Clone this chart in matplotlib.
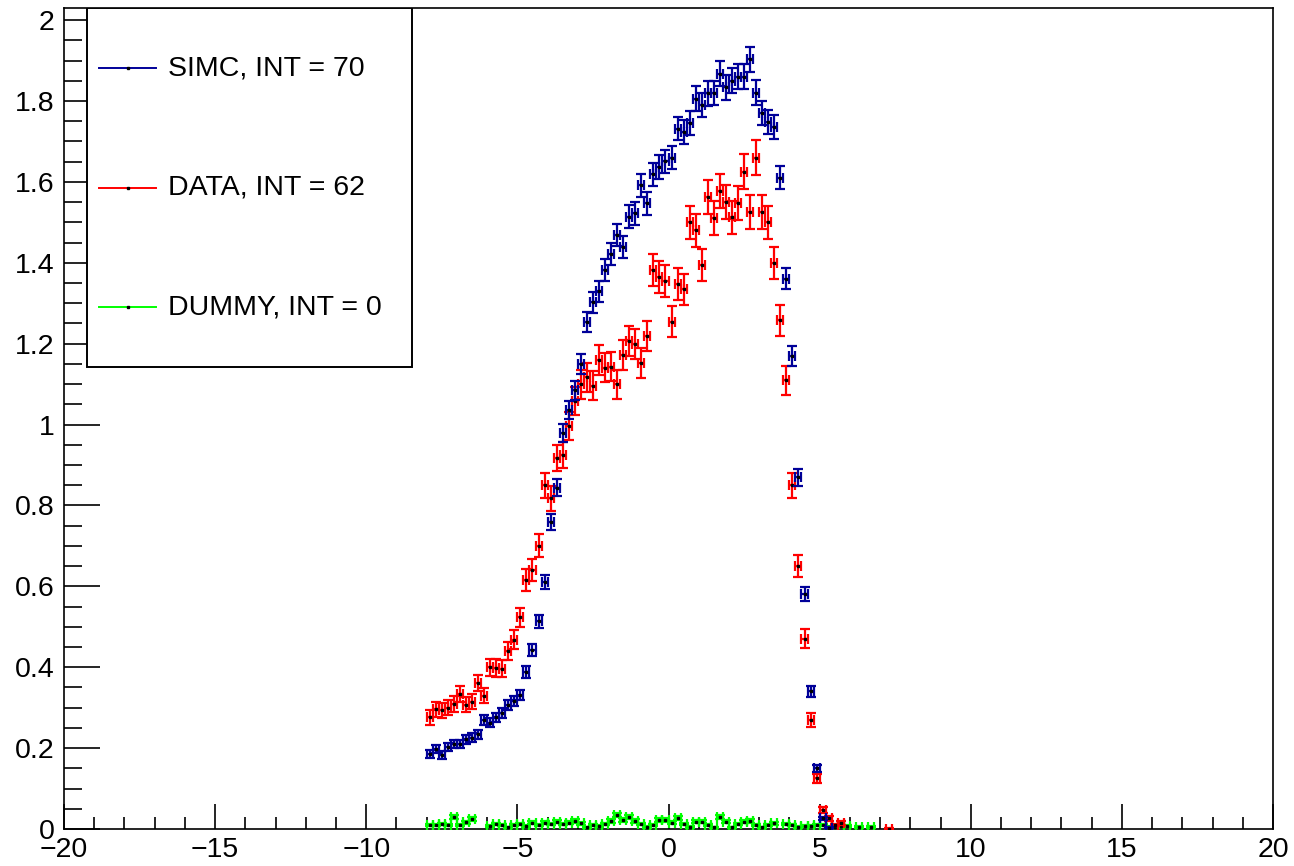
import numpy as np
import matplotlib.pyplot as plt
from matplotlib.patches import Rectangle
from matplotlib.lines import Line2D
from matplotlib.ticker import MultipleLocator

plt.rcParams['font.family'] = ['Liberation Sans', 'DejaVu Sans']

# histogram binning: 0.2 wide bins, first filled bin centred at -7.9
bin_width = 0.2
first_center = -7.9

simc_vals = [0.185, 0.198, 0.183, 0.202, 0.21, 0.21, 0.222, 0.226, 0.234, 0.269,
             0.263, 0.276, 0.286, 0.307, 0.317, 0.331, 0.388, 0.443, 0.514, 0.61,
             0.759, 0.844, 0.978, 1.036, 1.085, 1.15, 1.254, 1.302, 1.33, 1.382,
             1.421, 1.468, 1.44, 1.514, 1.522, 1.592, 1.547, 1.619, 1.637, 1.651,
             1.66, 1.732, 1.724, 1.745, 1.806, 1.79, 1.819, 1.82, 1.868, 1.834,
             1.85, 1.86, 1.86, 1.903, 1.821, 1.77, 1.747, 1.735, 1.61, 1.361,
             1.17, 0.87, 0.58, 0.34, 0.15, 0.026, 0.003]

data_vals = [0.276, 0.296, 0.294, 0.30, 0.309, 0.334, 0.307, 0.315, 0.361, 0.33,
             0.40, 0.398, 0.396, 0.44, 0.468, 0.523, 0.616, 0.641, 0.70, 0.85,
             0.818, 0.918, 0.925, 0.996, 1.059, 1.10, 1.117, 1.096, 1.16, 1.141,
             1.143, 1.10, 1.172, 1.207, 1.20, 1.152, 1.219, 1.382, 1.364, 1.356,
             1.254, 1.347, 1.334, 1.50, 1.48, 1.394, 1.563, 1.51, 1.578, 1.551,
             1.512, 1.547, 1.625, 1.526, 1.66, 1.526, 1.50, 1.40, 1.258, 1.11,
             0.85, 0.65, 0.47, 0.27, 0.125, 0.047, 0.026, 0.01, 0.015,
             np.nan, np.nan, np.nan, np.nan, np.nan, np.nan, np.nan, 0.001]

dummy_vals = [0.010, 0.010, 0.012, 0.010, 0.030, 0.010, 0.017, 0.025, np.nan, np.nan,
              0.008, 0.012, 0.010, 0.004, 0.010, 0.012, 0.008, 0.015, 0.010, 0.015,
              0.012, 0.018, 0.012, 0.015, 0.020, 0.014, 0.004, 0.010, 0.008, 0.012,
              0.020, 0.035, 0.022, 0.030, 0.020, 0.012, 0.006, 0.010, 0.022, 0.022,
              0.015, 0.028, 0.012, 0.006, 0.018, 0.018, 0.010, 0.004, 0.030, 0.018,
              0.004, 0.012, 0.018, 0.020, 0.010, 0.004, 0.010, 0.014, np.nan, 0.012,
              0.010, 0.005, 0.008, 0.008, 0.010, 0.010, 0.006, 0.004, 0.008, 0.008,
              np.nan, 0.006, np.nan, 0.005]

# per-series Poisson error scale (err = scale * sqrt(content))
err_scale = {"SIMC": 0.0225, "DATA": 0.034, "DUMMY": 0.03}

labels = ["SIMC, INT = 70", "DATA, INT = 62", "DUMMY, INT = 0"]
colors = ["#000099", "#ff0000", "#00ff00"]

fig = plt.figure(figsize=(12.94, 8.66), dpi=100)
ax = fig.add_axes([64 / 1294, 37 / 866, 1209 / 1294, 821 / 866])


def draw_hist(vals, name, color, z):
    v = np.array(vals, dtype=float)
    x = first_center + bin_width * np.arange(len(v))
    ok = ~np.isnan(v)
    err = err_scale[name] * np.sqrt(v[ok])
    ax.errorbar(x[ok], v[ok], xerr=bin_width / 2, yerr=err, fmt='s',
                color=color, ecolor=color, elinewidth=1.6, capsize=3.5,
                capthick=1.6, markersize=2, markerfacecolor='black',
                markeredgecolor='black', zorder=z)


draw_hist(dummy_vals, "DUMMY", colors[2], 3)
draw_hist(data_vals, "DATA", colors[1], 4)
draw_hist(simc_vals, "SIMC", colors[0], 5)

ax.set_xlim(-20, 20)
ax.set_ylim(0, 2.03)
ax.xaxis.set_major_locator(MultipleLocator(5))
ax.xaxis.set_minor_locator(MultipleLocator(1))
ax.yaxis.set_major_locator(MultipleLocator(0.2))
ax.yaxis.set_minor_locator(MultipleLocator(0.05))
ax.yaxis.set_major_formatter(plt.FuncFormatter(lambda v, p: f"{v:g}"))

ax.tick_params(axis='both', which='both', direction='in', top=False, right=False,
               labelsize=20.5, width=1.2, colors='black')
ax.tick_params(axis='x', which='major', length=18, pad=6)
ax.tick_params(axis='x', which='minor', length=9)
ax.tick_params(axis='y', which='major', length=26, pad=7)
ax.tick_params(axis='y', which='minor', length=13)
for s in ax.spines.values():
    s.set_linewidth(1.2)

# legend box
ax.add_patch(Rectangle((23 / 1209, 0.5627), 325 / 1209, 1 - 0.5627,
                       transform=ax.transAxes, facecolor='white',
                       edgecolor='black', linewidth=1.4, zorder=10))
entry_y = [0.9269, 0.7808, 0.6358]
for lab, col, yy in zip(labels, colors, entry_y):
    ax.add_line(Line2D([35 / 1209, 92 / 1209], [yy, yy], transform=ax.transAxes,
                       color=col, linewidth=1.4, zorder=11))
    ax.plot([63.5 / 1209], [yy], transform=ax.transAxes, marker='s',
            markersize=1.5, color='black', zorder=12)
    ax.text(104 / 1209, yy, lab, transform=ax.transAxes, fontsize=20.5,
            va='center', ha='left', zorder=12)

fig.savefig("out.png", dpi=100)
